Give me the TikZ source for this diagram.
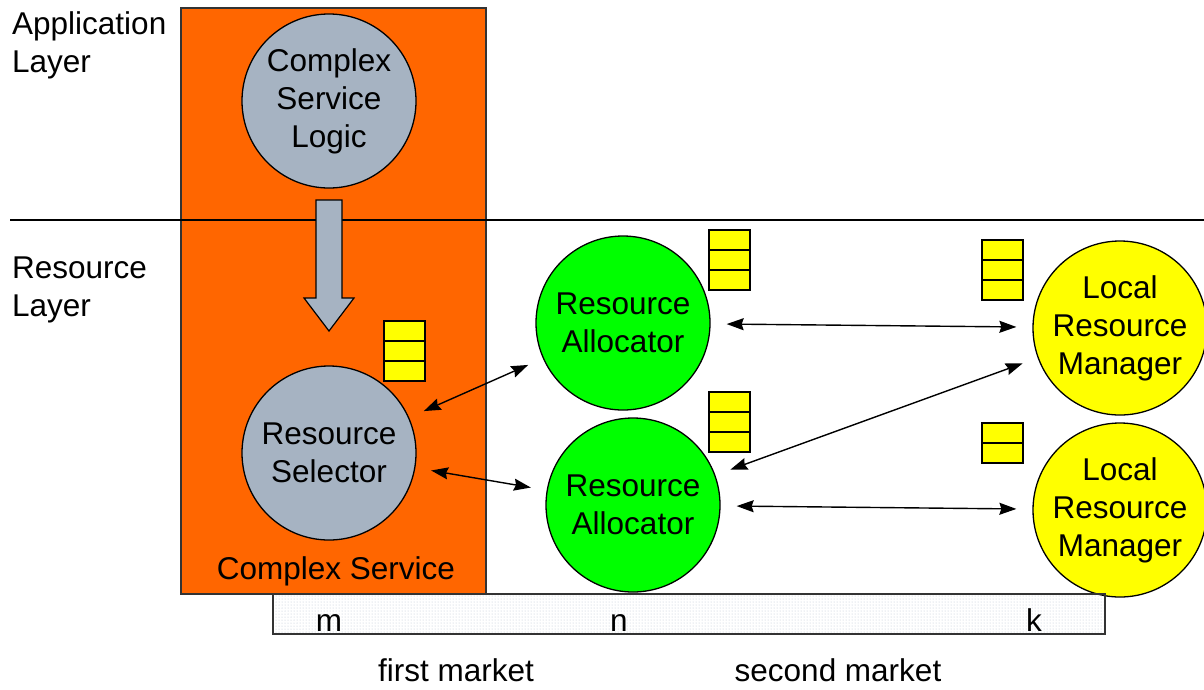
\documentclass[tikz,border=0pt]{standalone}
\usepackage{fontspec}
\setmainfont{Liberation Sans}
\usetikzlibrary{arrows.meta,patterns}
\definecolor{orng}{HTML}{FF6600}
\definecolor{bluegray}{HTML}{A6B3C2}
\definecolor{grn}{HTML}{00FF00}
\definecolor{ylw}{HTML}{FFFF00}
\definecolor{dotc}{HTML}{9AAABB}
\begin{document}
\begin{tikzpicture}[x=1pt,y=-1pt,
  every node/.style={font=\fontsize{31.5}{38}\selectfont, inner sep=0pt},
  bubble/.style={circle, draw=black, line width=1.3pt, minimum size=174pt, align=center},
  qcell/.style={draw=black, line width=1.2pt, fill=ylw},
  link/.style={{Stealth[length=17pt,width=12pt,inset=2pt]}-{Stealth[length=17pt,width=12pt,inset=2pt]}, line width=1.4pt, shorten <=16pt, shorten >=16pt},
  lbl/.style={align=left, anchor=west}]
\useasboundingbox (0,0) rectangle (1204,689);
% complex service box
\draw[fill=orng, draw=black!80, line width=1.2pt] (181,8) rectangle (486,594);
% layer separator
\draw[line width=1.2pt] (10,220) -- (1204,220);
% layer labels
\node[lbl] (app) at (12,45) {Application\\Layer};
\node[lbl] (res) at (12,290) {Resource\\Layer};
% bubbles
\node[bubble, fill=bluegray] (csl) at (329,101) {Complex\\Service\\Logic};
\node[bubble, fill=bluegray] (sel) at (329,453) {Resource\\Selector};
\node[bubble, fill=grn] (a1) at (623,323) {Resource\\Allocator};
\node[bubble, fill=grn] (a2) at (633,505) {Resource\\Allocator};
\node[bubble, fill=ylw] (l1) at (1120,328) {Local\\Resource\\Manager};
\node[bubble, fill=ylw] (l2) at (1120,510) {Local\\Resource\\Manager};
% block arrow
\draw[fill=bluegray, draw=black, line width=1.2pt] (316,200) -- (342,200) -- (342,298) -- (354,298) -- (329,331) -- (304,298) -- (316,298) -- cycle;
% queues
\foreach \x/\y/\n in {384/321/3, 709/230/3, 709/392/3, 982/240/3, 982/423/2}{
  \foreach \i in {1,...,\n}{
    \draw[qcell] (\x,{\y+(\i-1)*20}) rectangle ({\x+41},{\y+\i*20});
  }
}
% links
\draw[link] (sel) -- (a1);
\draw[link] (sel) -- (a2);
\draw[link] (a1) -- (l1);
\draw[link] (a2) -- (l1);
\draw[link] (a2) -- (l2);
% complex service label
\node[anchor=base] (cs) at (336,579) {Complex Service};
% market bar
\draw[pattern=dots, pattern color=dotc!70, draw=black!80, line width=1.2pt] (273,594) rectangle (1105,634);
\node[anchor=base] (m) at (329,631) {m};
\node[anchor=base] (n) at (619,631) {n};
\node[anchor=base] (k) at (1034,631) {k};
\node[anchor=base] (fm) at (456,681) {first market};
\node[anchor=base] (sm) at (838,681) {second market};
\end{tikzpicture}
\end{document}
